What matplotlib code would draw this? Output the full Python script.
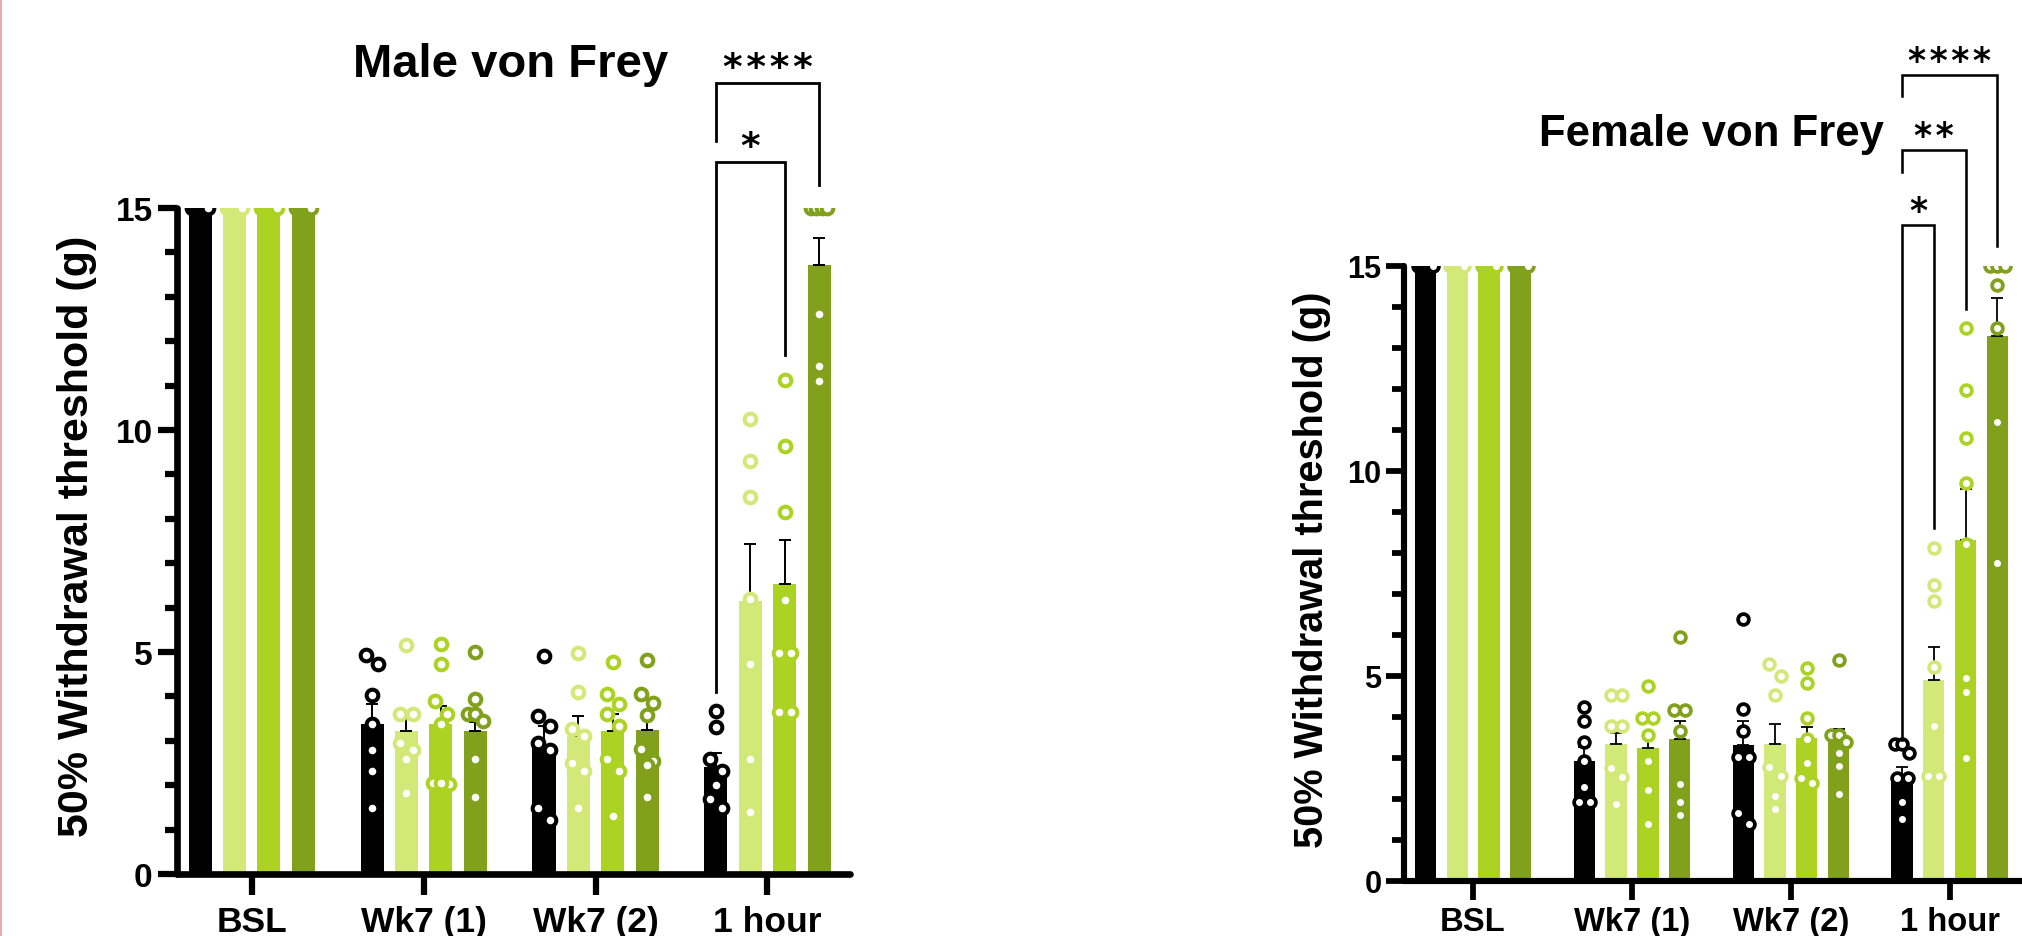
import numpy as np
import matplotlib
matplotlib.use('Agg')
import matplotlib.pyplot as plt
from matplotlib.lines import Line2D

plt.rcParams['font.family'] = ['Liberation Sans', 'DejaVu Sans']
plt.rcParams['font.weight'] = 'bold'

groups = ['BSL', 'Wk7 (1)', 'Wk7 (2)', '1 hour']
bar_colors = ['#000000', '#D2E978', '#ACD323', '#81A01C']

# ---- male data (4 series x 4 time points) ----
male_mean_1 = [15, 3.37, 2.88, 2.42]
male_mean_2 = [15, 3.22, 3.11, 6.15]
male_mean_3 = [15, 3.37, 3.22, 6.53]
male_mean_4 = [15, 3.22, 3.24, 13.72]
male_sem_1 = [0, 0.45, 0.45, 0.31]
male_sem_2 = [0, 0.38, 0.45, 1.28]
male_sem_3 = [0, 0.42, 0.38, 1.0]
male_sem_4 = [0, 0.2, 0.25, 0.6]
male_pts_1 = [[15] * 7,
              [4.94, 4.73, 4.03, 3.37, 2.8, 2.31, 1.48],
              [4.91, 3.56, 3.33, 2.95, 2.8, 1.48, 1.21],
              [3.67, 3.3, 2.58, 2.31, 2.0, 1.68, 1.48]]
male_pts_2 = [[15] * 7,
              [5.15, 3.6, 3.6, 2.95, 2.8, 2.6, 1.82],
              [4.98, 4.09, 3.26, 3.11, 2.5, 2.31, 1.48],
              [10.25, 9.31, 8.48, 6.2, 4.72, 2.58, 1.4]]
male_pts_3 = [[15] * 7,
              [5.17, 4.73, 3.9, 3.6, 3.37, 2.06, 2.03, 2.06],
              [4.77, 4.05, 3.83, 3.6, 3.33, 2.58, 2.31, 1.3],
              [11.13, 9.65, 8.15, 6.16, 4.97, 4.97, 3.65, 3.65]]
male_pts_4 = [[15] * 7,
              [5.0, 3.94, 3.6, 3.6, 3.45, 2.58, 1.74],
              [4.83, 4.05, 3.86, 3.58, 2.82, 2.54, 2.46, 1.74],
              [15, 15, 15, 15, 12.62, 11.44, 11.1]]

# ---- female data ----
fem_mean_1 = [15, 2.93, 3.31, 2.52]
fem_mean_2 = [15, 3.35, 3.35, 4.91]
fem_mean_3 = [15, 3.25, 3.50, 8.31]
fem_mean_4 = [15, 3.47, 3.55, 13.29]
fem_sem_1 = [0, 0.35, 0.6, 0.26]
fem_sem_2 = [0, 0.27, 0.49, 0.8]
fem_sem_3 = [0, 0.32, 0.26, 1.24]
fem_sem_4 = [0, 0.44, 0.15, 0.92]
fem_pts_1 = [[15] * 7,
             [4.25, 3.91, 3.40, 2.93, 2.30, 1.93, 1.93],
             [6.39, 4.2, 3.66, 3.03, 3.03, 1.67, 1.38],
             [3.33, 3.33, 3.13, 2.52, 2.52, 1.93, 1.52]]
fem_pts_2 = [[15] * 7,
             [4.53, 4.53, 3.77, 3.77, 2.75, 2.53, 1.89],
             [5.30, 5.01, 4.53, 2.77, 2.56, 2.08, 1.76],
             [8.11, 7.21, 6.84, 5.23, 3.79, 2.55, 2.55]]
fem_pts_3 = [[15] * 7,
             [4.75, 3.98, 3.98, 3.57, 2.93, 2.23, 1.38],
             [5.19, 4.82, 3.98, 3.47, 2.89, 2.52, 2.40],
             [13.5, 11.97, 10.8, 9.7, 8.23, 4.94, 4.6, 2.99]]
fem_pts_4 = [[15] * 7,
             [5.96, 4.16, 4.16, 3.66, 2.37, 1.93, 1.6],
             [5.38, 3.57, 3.57, 3.40, 3.13, 2.81, 2.11],
             [15, 15, 15, 14.53, 13.48, 11.19, 7.76]]

# significance brackets within "1 hour": series pair, label, bracket top, leg ends
male_sig_pairs = [(0, 2), (0, 3)]
male_sig_labels = ['*', '****']
male_sig_top = [16.04, 17.82]
male_sig_left = [4.1, 16.52]
male_sig_right = [11.7, 15.51]

fem_sig_pairs = [(0, 1), (0, 2), (0, 3)]
fem_sig_labels = ['*', '**', '****']
fem_sig_top = [16.0, 17.83, 19.65]
fem_sig_left = [3.44, 17.29, 19.15]
fem_sig_right = [8.61, 13.95, 15.49]

OFFS = [-0.3, -0.1, 0.1, 0.3]
BW = 0.134


def spread(vals, thr=0.3, gap=0.07, maxw=0.09):
    # lay out points with close values side by side, like a scatter-dot plot
    vals = np.asarray(vals, dtype=float)
    order = np.argsort(-vals, kind='stable')
    dx = np.zeros(len(vals))
    rows = []
    for i in order:
        if rows and vals[rows[-1][0]] - vals[i] < thr:
            rows[-1].append(i)
        else:
            rows.append([i])
    for r in rows:
        k = len(r)
        if k > 1:
            g = min(gap, maxw / (k - 1))
            for j, i in enumerate(r):
                dx[i] = (j - (k - 1) / 2) * g
    return dx


def draw_panel(ax, means, sems, pts, sig, title, s, xpad):
    x = np.arange(len(groups))
    for k in range(4):
        xs = x + OFFS[k]
        ax.bar(xs, means[k], width=BW, color=bar_colors[k], zorder=2)
        for g in range(4):
            if sems[k][g] > 0:
                ax.errorbar(xs[g], means[k][g], yerr=[[0], [sems[k][g]]], fmt='none',
                            ecolor='black', elinewidth=1.4 * s, capsize=4.3 * s,
                            capthick=1.4 * s, zorder=3)
            vals = pts[k][g]
            ax.plot(xs[g] + spread(vals), vals, 'o', ms=8.4 * s, mew=2.9 * s,
                    mfc='white', mec=bar_colors[k], zorder=4, clip_on=True)

    ax.set_xlim(-0.435, 3.48)
    ax.set_ylim(0, 15)
    for side in ['top', 'right']:
        ax.spines[side].set_visible(False)
    for side in ['left', 'bottom']:
        ax.spines[side].set_linewidth(4.8 * s)
        ax.spines[side].set_capstyle('round')
        ax.spines[side].set_zorder(5)

    ax.set_yticks([0, 5, 10, 15])
    ax.set_yticks(range(16), minor=True)
    ax.set_xticks(x, groups)
    ax.tick_params(axis='y', which='major', length=14 * s, width=4.5 * s,
                   labelsize=24 * s, pad=3.5 * s)
    ax.tick_params(axis='y', which='minor', length=9 * s, width=4.5 * s)
    ax.tick_params(axis='x', which='major', length=15 * s, width=4.5 * s,
                   labelsize=25.5 * s, pad=xpad)

    ax.text(-0.148, 0.508, '50% Withdrawal threshold (g)', transform=ax.transAxes,
            rotation=90, ha='center', va='center', fontsize=31 * s)
    ax.text(0.495, 1.216, title, transform=ax.transAxes, ha='center', va='center',
            fontsize=34 * s)

    pairs, labels, tops, lefts, rights = sig
    for (a, b), lab, top, lft, rgt in zip(pairs, labels, tops, lefts, rights):
        xa, xb = 3 + OFFS[a], 3 + OFFS[b]
        ax.plot([xa, xa, xb, xb], [lft, top, top, rgt], color='black',
                lw=2.0 * s, clip_on=False, zorder=6, solid_joinstyle='miter')
        ax.text((xa + xb) / 2, top + 0.1, '\u200a'.join(lab), ha='center',
                va='baseline', fontsize=27 * s, family='DejaVu Sans',
                clip_on=False)


fig = plt.figure(figsize=(20.22, 9.37), dpi=100)

ax_m = fig.add_axes([177 / 2022, 62 / 937, 673 / 2022, 666 / 937])
draw_panel(ax_m,
           [male_mean_1, male_mean_2, male_mean_3, male_mean_4],
           [male_sem_1, male_sem_2, male_sem_3, male_sem_4],
           [male_pts_1, male_pts_2, male_pts_3, male_pts_4],
           (male_sig_pairs, male_sig_labels, male_sig_top, male_sig_left, male_sig_right),
           'Male von Frey', 1.0, 7)

ax_f = fig.add_axes([1404 / 2022, 55 / 937, 622 / 2022, 615 / 937])
draw_panel(ax_f,
           [fem_mean_1, fem_mean_2, fem_mean_3, fem_mean_4],
           [fem_sem_1, fem_sem_2, fem_sem_3, fem_sem_4],
           [fem_pts_1, fem_pts_2, fem_pts_3, fem_pts_4],
           (fem_sig_pairs, fem_sig_labels, fem_sig_top, fem_sig_left, fem_sig_right),
           'Female von Frey', 0.924, 4)

# thin pink border line at the left edge of the source image
fig.add_artist(Line2D([0.0007, 0.0007], [0, 1], transform=fig.transFigure,
                      color='#e39aa2', lw=1.2))

fig.savefig('out.png', dpi=100)
